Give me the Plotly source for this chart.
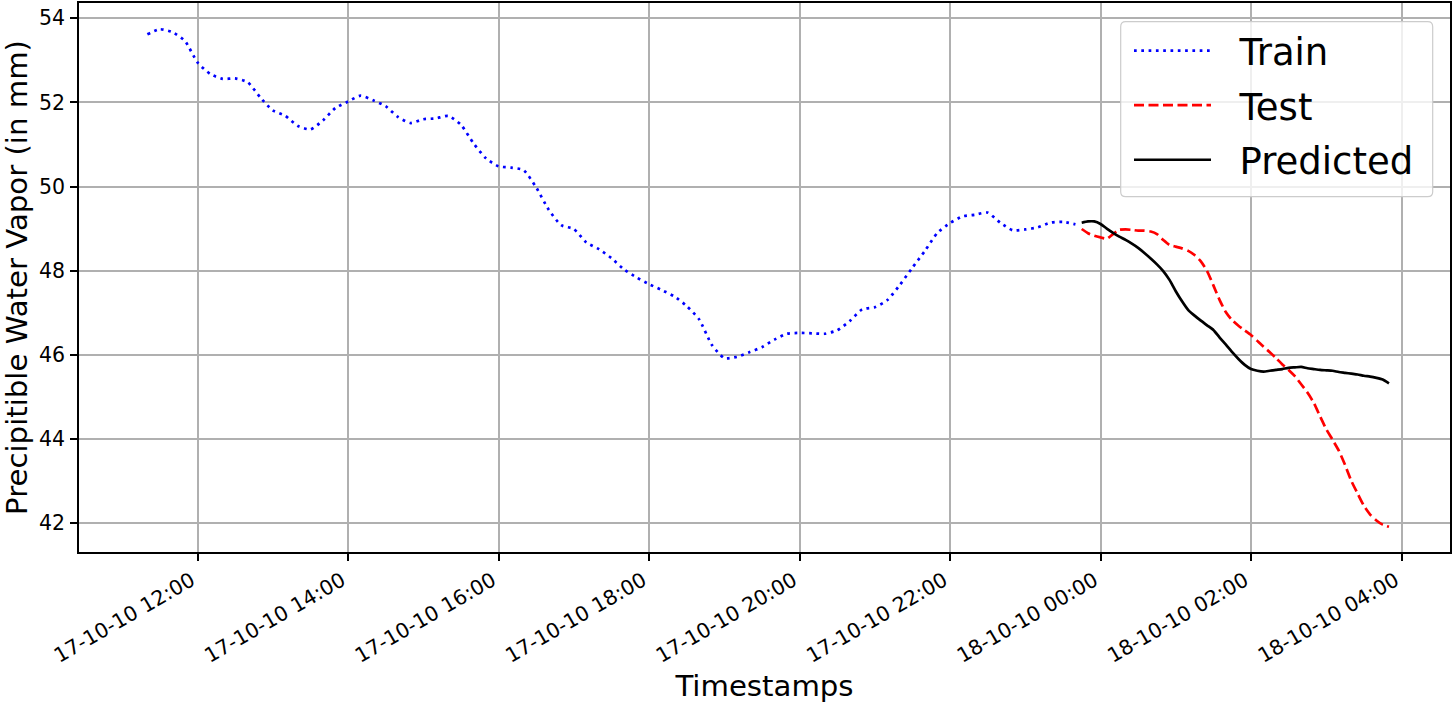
import pandas as pd
import plotly.graph_objects as go

# ---- data ----
train_start = "2010-10-17 11:20"
train_step = "10min"
train_values = [53.62, 53.74, 53.67, 53.46, 52.95, 52.68, 52.56, 52.57, 52.48, 52.12,
                51.81, 51.68, 51.44, 51.36, 51.57, 51.87, 52.02, 52.16, 52.05, 51.91,
                51.65, 51.51, 51.60, 51.62, 51.68, 51.47, 51.03, 50.67, 50.48, 50.45,
                50.39, 49.98, 49.45, 49.08, 48.99, 48.67, 48.51, 48.30, 48.03, 47.84,
                47.68, 47.54, 47.39, 47.16, 46.84, 46.24, 45.92, 45.95, 46.06, 46.18,
                46.36, 46.50, 46.52, 46.51, 46.50, 46.58, 46.80, 47.08, 47.13, 47.30,
                47.66, 48.07, 48.47, 48.90, 49.13, 49.29, 49.33, 49.38, 49.14, 48.96,
                48.98, 49.03, 49.14, 49.16, 49.10]

test_start = "2010-10-17 23:45"
test_step = "5min"
test_values = [48.99, 48.89, 48.83, 48.79, 48.76, 48.87, 48.97, 48.98, 48.97, 48.95,
               48.95, 48.93, 48.87, 48.73, 48.61, 48.57, 48.53, 48.47, 48.37, 48.22,
               47.99, 47.65, 47.30, 47.01, 46.82, 46.69, 46.58, 46.47, 46.33, 46.19,
               46.06, 45.92, 45.77, 45.64, 45.49, 45.30, 45.10, 44.86, 44.54, 44.23,
               43.98, 43.72, 43.38, 43.00, 42.70, 42.41, 42.20, 42.06, 41.96, 41.91]

pred_values = [49.14, 49.17, 49.17, 49.11, 49.00, 48.90, 48.81, 48.73, 48.64, 48.54,
               48.42, 48.29, 48.15, 47.99, 47.78, 47.51, 47.27, 47.06, 46.93, 46.81,
               46.70, 46.59, 46.41, 46.24, 46.06, 45.90, 45.76, 45.66, 45.62, 45.60,
               45.62, 45.64, 45.66, 45.69, 45.70, 45.71, 45.68, 45.66, 45.64, 45.63,
               45.62, 45.59, 45.57, 45.55, 45.53, 45.50, 45.48, 45.45, 45.41, 45.32]

series_names = ["Train", "Test", "Predicted"]
y_ticks = [42, 44, 46, 48, 50, 52, 54]

train_times = pd.date_range(train_start, periods=len(train_values), freq=train_step)
test_times = pd.date_range(test_start, periods=len(test_values), freq=test_step)

FONT = "DejaVu Sans"
GAP = "\u00a0\u00a0"  # visual gap between legend sample and label

W, H = 1455, 703
ML, MR, MT, MB = 79, 5, 3, 151
PW, PH = W - ML - MR, H - MT - MB


def px_x(x):
    return (x - ML) / PW


def px_y(y):
    return 1 - (y - MT) / PH


fig = go.Figure()
fig.add_trace(go.Scatter(x=train_times, y=train_values, mode="lines", name=GAP + series_names[0],
                         legendgroup="a",
                         line=dict(color="blue", width=2.7, dash="2.7px,4.6px", shape="spline", smoothing=0.6)))
fig.add_trace(go.Scatter(x=test_times, y=test_values, mode="lines", name=GAP + series_names[1],
                         legendgroup="b",
                         line=dict(color="red", width=2.7, dash="10px,4.5px", shape="spline", smoothing=0.6)))
fig.add_trace(go.Scatter(x=test_times, y=pred_values, mode="lines", name=GAP + series_names[2],
                         legendgroup="c",
                         line=dict(color="black", width=2.7, shape="spline", smoothing=0.6)))

# legend frame (rounded, semi-transparent) drawn as a shape behind the legend items
x0, x1, y0, y1, r = px_x(1120.7), px_x(1432.7), px_y(21.7), px_y(196.7), 5
rx, ry = r / PW, r / PH
path = (f"M{x0+rx},{y0} L{x1-rx},{y0} Q{x1},{y0} {x1},{y0-ry} "
        f"L{x1},{y1+ry} Q{x1},{y1} {x1-rx},{y1} L{x0+rx},{y1} Q{x0},{y1} {x0},{y1+ry} "
        f"L{x0},{y0-ry} Q{x0},{y0} {x0+rx},{y0} Z")
fig.add_shape(type="path", path=path, xref="paper", yref="paper",
              fillcolor="rgba(255,255,255,0.8)", line=dict(color="#cccccc", width=1.2), layer="above")

fig.update_layout(
    width=W, height=H,
    margin=dict(l=ML, r=MR, t=MT, b=MB, autoexpand=False),
    paper_bgcolor="white", plot_bgcolor="white",
    font=dict(family=FONT, color="black", size=20.5),
    showlegend=True,
    legend=dict(
        x=px_x(1129), y=px_y(20), xanchor="left", yanchor="top",
        bgcolor="rgba(0,0,0,0)", borderwidth=0,
        font=dict(family=FONT, size=37, color="black"),
        itemwidth=77, tracegroupgap=3.5,
    ),
)

fig.update_xaxes(
    range=["2010-10-17 10:25:30", "2010-10-18 04:38:40"],
    tick0="2010-10-17 00:00", dtick=2 * 3600 * 1000,
    tickformat="%d-%m-%y %H:%M", tickangle=-30,
    ticks="outside", ticklen=7, tickwidth=1.5, tickcolor="black",
    tickfont=dict(family=FONT, size=20.5, color="black"),
    ticklabelstandoff=0, ticklabelshift=-6,
    showgrid=True, gridcolor="#b0b0b0", gridwidth=1.5,
    showline=True, linecolor="black", linewidth=1.5, mirror=True,
    zeroline=False,
    title=dict(text="Timestamps", font=dict(family=FONT, size=29.2, color="black"), standoff=9),
)
fig.update_yaxes(
    range=[41.31, 54.364],
    tickvals=y_ticks,
    ticks="outside", ticklen=7, tickwidth=1.5, tickcolor="black",
    tickfont=dict(family=FONT, size=20.5, color="black"),
    ticklabelstandoff=1,
    showgrid=True, gridcolor="#b0b0b0", gridwidth=1.5,
    showline=True, linecolor="black", linewidth=1.5, mirror=True,
    zeroline=False,
    title=dict(text="Precipitible Water Vapor (in mm)", font=dict(family=FONT, size=29.2, color="black"), standoff=14),
)

fig.write_html("out.html")
